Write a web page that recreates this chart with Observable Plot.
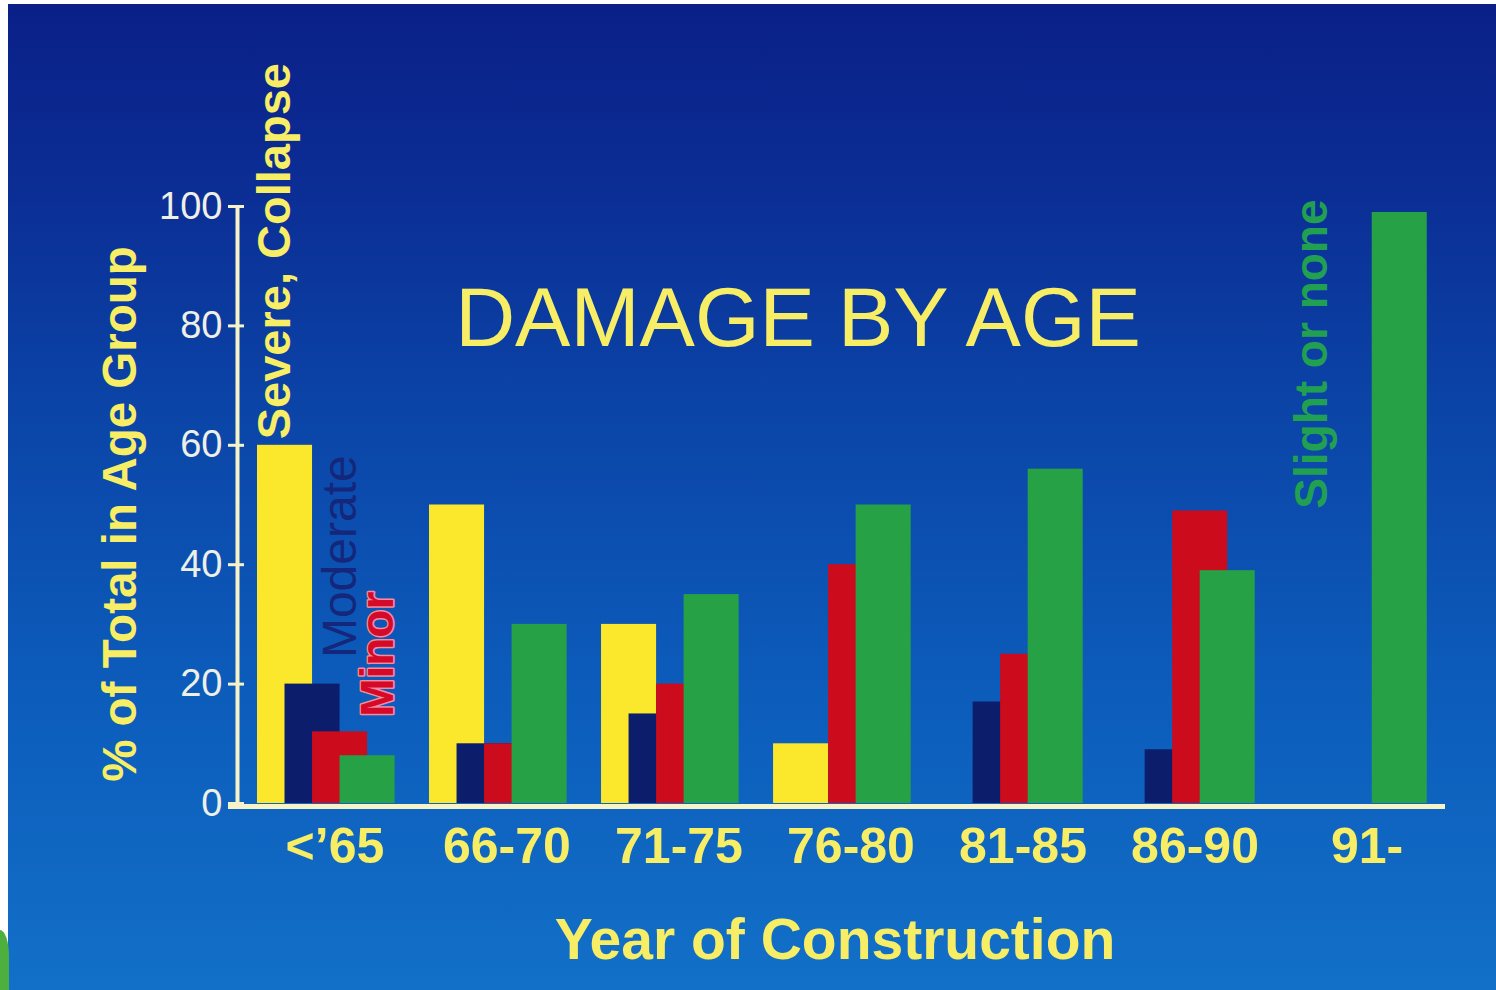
<!DOCTYPE html>
<html>
<head>
<meta charset="utf-8">
<script src="https://cdn.jsdelivr.net/npm/d3@7"></script>
<script src="https://cdn.jsdelivr.net/npm/@observablehq/plot@0.6"></script>
<style>
  html, body { margin: 0; padding: 0; background: #ffffff; overflow: hidden; }
  #chart { position: absolute; left: 8px; top: 4px; }
  #corner { position: absolute; left: 0; top: 930px; width: 9px; height: 60px; background: #4caf3e; border-top-right-radius: 14px 40px; }
</style>
</head>
<body>
<div id="chart"></div>
<div id="corner"></div>
<script>
// ---- data ----
const categories = ["<\u201965", "66-70", "71-75", "76-80", "81-85", "86-90", "91-"];
const seriesNames = ["Severe, Collapse", "Moderate", "Minor", "Slight or none"];
const severe   = [60, 50, 30, 10, 0, 0, 0];
const moderate = [20, 10, 15, 0, 17, 9, 0];
const minor    = [12, 10, 20, 40, 25, 49, 0];
const slight   = [8, 30, 35, 50, 56, 39, 99];
const yTicks = [0, 20, 40, 60, 80, 100];
const seriesColors = ["#fbe82c", "#0c1d6c", "#cc0b1c", "#26a145"];

// ---- layout helpers (overlapping bars within a group) ----
const GROUP_OFFSET = 0.45, STEP = 0.16, BAR_W = 0.32;
const xDomain = [-0.572, 6.456];
const allSeries = [severe, moderate, minor, slight];
const bars = [];
allSeries.forEach((vals, j) => vals.forEach((v, i) => {
  if (v > 0) bars.push({cat: categories[i], series: seriesNames[j], value: v, color: seriesColors[j],
    x1: i - GROUP_OFFSET + j * STEP, x2: i - GROUP_OFFSET + j * STEP + BAR_W});
}));
const barCenter = (i, j) => i - GROUP_OFFSET + j * STEP + BAR_W / 2;

const FONT = "'Liberation Sans', Arial, Helvetica, sans-serif";
const YELLOW_TEXT = "#f8ee66";

const labels = [
  {text: seriesNames[0], x: barCenter(0, 0), y: severe[0], fill: YELLOW_TEXT, weight: "bold", anchor: "start", dx: -10, dy: -6, size: 47, stroke: "none"},
  {text: seriesNames[1], x: barCenter(0, 1), y: moderate[0], fill: "#14277a", weight: "normal", anchor: "start", dx: 28, dy: -26, size: 48, stroke: "none"},
  {text: seriesNames[2], x: barCenter(0, 2), y: minor[0], fill: "#d40a28", weight: "bold", anchor: "start", dx: 38, dy: -15, size: 46, stroke: "#f58aa0"},
  {text: seriesNames[3], x: barCenter(6, 3), y: slight[6], fill: "#22a052", weight: "bold", anchor: "end", dx: -87, dy: -13, size: 46, stroke: "none"}
];

const chart = Plot.plot({
  width: 1488,
  height: 986,
  marginLeft: 228,
  marginRight: 51,
  marginTop: 202,
  marginBottom: 187,
  x: {domain: xDomain, axis: null},
  y: {domain: [0, 100], axis: null},
  color: {type: "identity"},
  style: {
    background: "linear-gradient(to bottom, #0a2088 0%, #0b2d94 18%, #0b45a8 42%, #0c5bba 68%, #1270c8 100%)",
    fontFamily: FONT,
    overflow: "visible"
  },
  marks: [
    Plot.rect(bars, {x1: "x1", x2: "x2", y1: 0, y2: "value", fill: "color"}),
    // axes
    Plot.ruleY([0], {stroke: "#f6f3c8", strokeWidth: 5, dy: 3, insetLeft: -8}),
    Plot.ruleX([xDomain[0]], {y1: 0, y2: 100, stroke: "#f6f3c8", strokeWidth: 4, dx: 1}),
    Plot.axisY({ticks: yTicks, tickSize: 16, dx: 8, tickPadding: 6, fontSize: 38, fill: "#eef0e6", stroke: "#f6f3c8", strokeWidth: 3, label: null}),
    Plot.axisX({ticks: categories.map((_, i) => i), tickFormat: i => categories[i], tickSize: 0, tickPadding: 24,
      fontSize: 50, fontWeight: "bold", fill: YELLOW_TEXT, label: null}),
    // titles
    Plot.text(["DAMAGE BY AGE"], {frameAnchor: "top", textAnchor: "middle", lineAnchor: "middle", dx: -43, dy: 113, fontSize: 83, fill: YELLOW_TEXT, text: d => d}),
    Plot.text(["Year of Construction"], {frameAnchor: "bottom", textAnchor: "middle", lineAnchor: "middle", dx: -6, dy: 137, fontSize: 57, fontWeight: "bold", fill: YELLOW_TEXT, text: d => d}),
    Plot.text(["% of Total in Age Group"], {frameAnchor: "left", textAnchor: "middle", lineAnchor: "middle", dx: -116, dy: 9, rotate: -90, fontSize: 47.5, fontWeight: "bold", fill: YELLOW_TEXT, text: d => d}),
    // series labels
    ...labels.map(l => Plot.text([l], {x: "x", y: "y", text: "text", rotate: -90, textAnchor: l.anchor,
      dx: l.dx, dy: l.dy, fontSize: l.size, fontWeight: l.weight, fill: l.fill,
      stroke: l.stroke, strokeWidth: l.stroke === "none" ? 0 : 3, paintOrder: "stroke"}))
  ]
});
document.getElementById("chart").appendChild(chart);
</script>
</body>
</html>
